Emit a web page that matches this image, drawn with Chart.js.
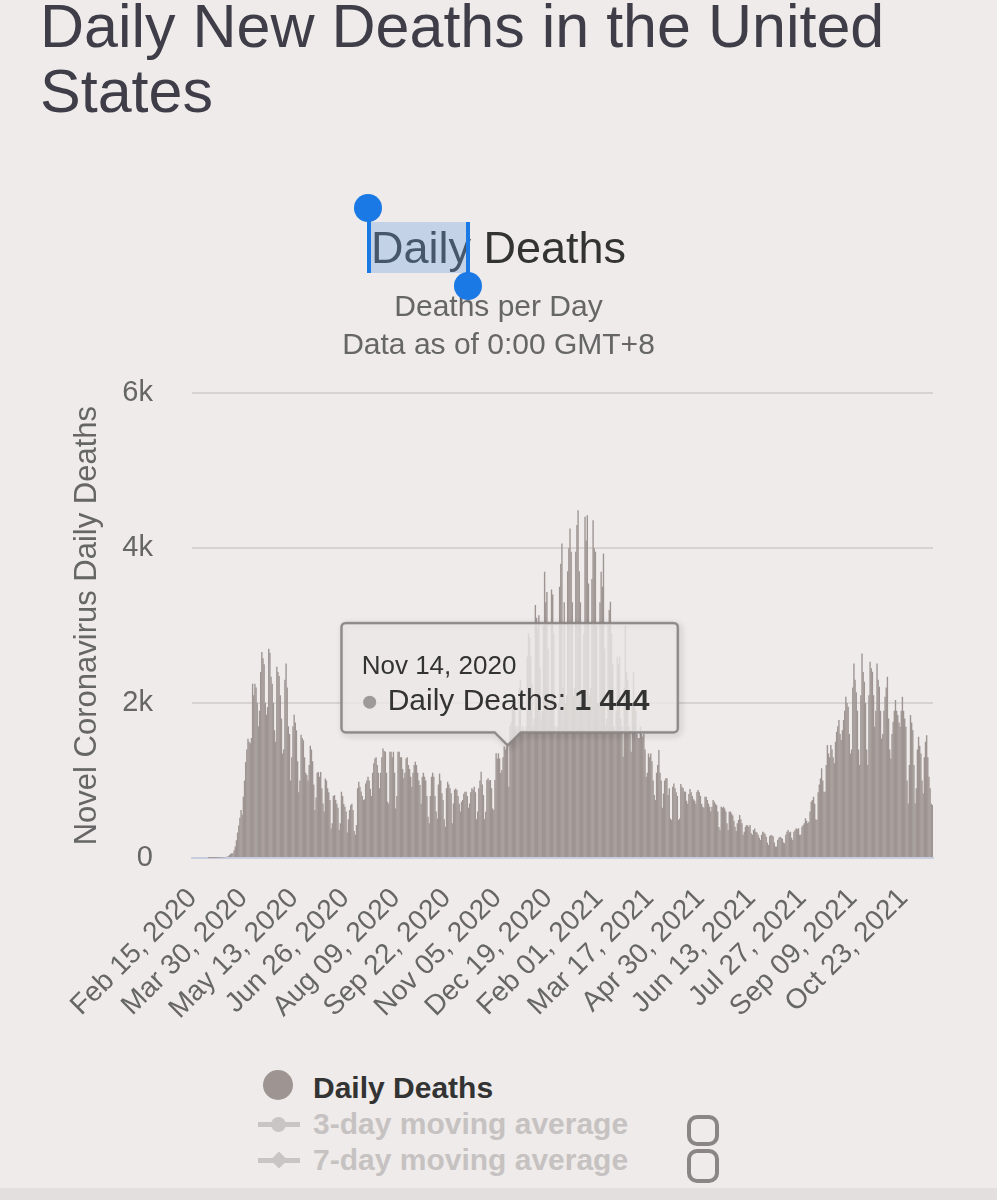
<!DOCTYPE html>
<html>
<head>
<meta charset="utf-8">
<title>Daily New Deaths in the United States</title>
<script src="https://cdn.jsdelivr.net/npm/chart.js@4.4.1/dist/chart.umd.min.js"></script>
<style>
  html, body { margin: 0; padding: 0; background: #eeebea; }
  body { width: 997px; height: 1200px; position: relative; overflow: hidden;
         font-family: "Liberation Sans", Arial, Helvetica, sans-serif; }
  h1 { position: absolute; left: 40px; top: -6px; margin: 0; width: 910px;
       font-weight: normal; font-size: 61px; line-height: 65px; color: #3e3d48; }
  #chartBox { position: absolute; left: 0; top: 190px; width: 997px; height: 860px; }
  .abs { position: absolute; }
  .legText { position: absolute; left: 313px; font-size: 30px; line-height: 36px; font-weight: bold; white-space: nowrap; }
  .sel { background: #1b79e6; position: absolute; }
  .knob { background: #1b79e6; position: absolute; width: 28px; height: 28px; border-radius: 50%; }
  .box { position: absolute; left: 687px; width: 32px; border: 4px solid #8b8584; border-radius: 10px; box-sizing: border-box; }
  #footer { position: absolute; left: 0; top: 1188px; width: 997px; height: 12px; background: #e3dfde; }
</style>
</head>
<body>
<h1>Daily New Deaths in the United States</h1>

<div id="chartBox"><canvas id="chart" width="997" height="860"></canvas></div>

<!-- text selection on the chart title -->
<div class="abs" style="left:370px;top:222px;width:97px;height:51px;background:rgba(110,160,225,0.33);"></div>
<div class="sel" style="left:367px;top:208px;width:4px;height:65px;"></div>
<div class="knob" style="left:354px;top:194px;"></div>
<div class="sel" style="left:466px;top:222px;width:4px;height:64px;"></div>
<div class="knob" style="left:454px;top:272px;"></div>

<!-- legend -->
<div class="abs" style="left:263px;top:1070px;width:30px;height:30px;border-radius:50%;background:#9e9592;"></div>
<div class="legText" style="top:1070px;color:#333333;">Daily Deaths</div>

<div class="abs" style="left:258px;top:1122px;width:42px;height:5px;background:#c9c5c4;"></div>
<div class="abs" style="left:271px;top:1117px;width:15px;height:15px;border-radius:50%;background:#c9c5c4;"></div>
<div class="legText" style="top:1106px;color:#c6c2c1;">3-day moving average</div>

<div class="abs" style="left:258px;top:1158px;width:42px;height:5px;background:#c9c5c4;"></div>
<div class="abs" style="left:273px;top:1154px;width:12px;height:12px;background:#c9c5c4;transform:rotate(45deg);"></div>
<div class="legText" style="top:1142px;color:#c6c2c1;">7-day moving average</div>

<div class="box" style="top:1115px;height:31px;"></div>
<div class="box" style="top:1149px;height:34px;"></div>

<div id="footer"></div>

<script>
// --------------------
// DATA
// --------------------
const START_DATE = Date.UTC(2020, 1, 15);   // first day on the axis
const MONTHS = ['Jan','Feb','Mar','Apr','May','Jun','Jul','Aug','Sep','Oct','Nov','Dec'];

// daily deaths, one row per week (Sat .. Fri)
const dailyDeaths = [
  0,0,0,0,0,0,0,                          // Feb 15 2020
  0,0,0,0,0,0,0,                          // Feb 22
  1,1,4,1,3,1,2,                          // Feb 29
  4,3,4,5,8,7,11,                         // Mar 07
  10,12,18,23,40,55,60,                   // Mar 14
  60,100,150,230,330,420,520,             // Mar 21
  620,560,790,1000,1240,1400,1540,        // Mar 28
  1500,1480,1550,2250,2100,2250,2200,     // Apr 04
  2000,1700,1900,2400,2660,2580,2500,     // Apr 11
  2000,1850,1950,2700,2650,2340,2250,     // Apr 18
  2000,1650,1500,2470,2400,2350,2100,     // Apr 25
  1800,1350,1400,2300,2510,2200,1700,     // May 02
  1600,1000,1300,1700,1850,1750,1650,     // May 09
  1250,850,1000,1590,1550,1520,1300,      // May 16
  1100,1070,1000,1200,1450,1400,1250,     // May 23
  950,620,780,1100,1110,1050,1110,        // May 30
  900,705,600,1027,1000,900,850,          // Jun 06
  750,380,450,800,812,750,700,            // Jun 13
  650,361,450,855,800,700,662,            // Jun 20
  600,330,500,620,680,700,620,            // Jun 27
  350,300,425,900,985,920,860,            // Jul 04
  800,748,760,963,1000,1049,1000,         // Jul 11
  893,800,1100,1222,1286,1300,1200,       // Jul 18
  1100,900,1100,1300,1415,1380,1370,      // Jul 25
  1100,727,700,1372,1372,1300,1370,       // Aug 01
  1100,640,800,1372,1372,1300,1300,       // Aug 08
  1150,1028,1100,1286,1300,1200,1150,     // Aug 15
  1050,920,1100,1200,1243,1200,1100,      // Aug 22
  1000,942,700,1049,1100,1049,1000,       // Aug 29
  800,533,450,800,1050,1100,1050,         // Sep 05
  800,600,511,950,1092,1000,835,          // Sep 12
  750,500,404,900,985,950,900,            // Sep 19
  835,450,705,880,898,877,800,            // Sep 26
  700,600,727,750,830,855,855,            // Oct 03
  800,650,705,850,900,880,920,            // Oct 10
  850,500,600,900,1000,1114,950,          // Oct 17
  812,500,597,1007,1028,1000,1007,        // Oct 24
  900,640,619,1007,1351,1286,1351,        // Oct 31
  1286,1100,1136,1300,1440,1400,1440,     // Nov 07
  1444,920,1700,1750,1950,2000,1950,      // Nov 14
  1700,1650,1700,2200,2300,1650,1700,     // Nov 21
  1650,1600,1700,2600,2900,2850,2600,     // Nov 28
  2250,1700,1800,3265,3100,2950,3135,     // Dec 05
  2450,1800,1900,3000,3694,3300,3435,     // Dec 12
  2700,1900,2000,3466,3400,2900,1700,     // Dec 19
  1600,1700,2000,3500,3800,4060,2200,     // Dec 26
  3300,2000,2100,3700,4000,4253,3952,     // Jan 02 2021
  3300,2100,2200,3952,4300,4490,3700,     // Jan 09
  3300,2000,1900,2900,4404,4100,4425,     // Jan 16
  3545,2100,2200,3600,4361,4000,3952,     // Jan 23
  3000,2000,2000,3300,3694,3500,3930,     // Jan 30
  2700,1700,1800,3000,3200,3307,2900,     // Feb 06
  2500,1700,1650,1900,2600,2500,2600,     // Feb 13
  1800,1700,1307,2200,3000,2400,2300,     // Feb 20
  1700,1650,1372,2000,2400,2000,1900,     // Feb 27
  1600,1550,1550,1700,1600,1565,1600,     // Mar 06
  1400,1050,1100,1350,1300,1350,1250,     // Mar 13
  1000,813,750,1100,1200,1393,1100,       // Mar 20
  1000,650,834,1000,1028,1028,813,        // Mar 27
  900,511,490,920,963,900,850,            // Apr 03
  800,490,511,955,920,900,860,            // Apr 10
  855,740,700,826,891,850,800,            // Apr 17
  760,740,700,855,877,850,800,            // Apr 24
  700,663,650,791,791,750,700,            // May 01
  663,600,663,748,727,700,680,            // May 08
  600,400,361,663,650,663,640,            // May 15
  600,450,361,597,600,576,550,            // May 22
  480,404,350,450,490,555,500,            // May 29
  447,300,340,404,425,420,400,            // Jun 05
  425,318,300,361,380,340,330,            // Jun 12
  300,260,232,300,340,330,310,            // Jun 19
  275,200,168,280,297,290,280,            // Jun 26
  200,150,147,232,260,275,260,            // Jul 03
  250,200,190,300,340,361,330,            // Jul 10
  340,260,232,340,360,383,370,            // Jul 17
  383,300,300,404,425,450,512,            // Jul 24
  480,450,469,600,727,750,791,            // Jul 31
  700,500,490,850,950,1028,1158,          // Aug 07
  1000,855,855,1200,1458,1350,1300,       // Aug 14
  1458,1400,1300,1222,1500,1630,1700,     // Aug 21
  1780,1600,1522,1650,1780,1900,2082,     // Aug 28
  2000,1952,1600,1350,1400,2200,2511,     // Sep 04
  2300,2140,1900,1400,1200,2100,2640,     // Sep 11
  2400,2275,2000,1400,1200,2100,2532,     // Sep 18
  2450,2404,2100,1695,1900,2511,2300,     // Sep 25
  2210,1900,1544,1600,1900,2082,2200,     // Oct 02
  2340,1800,1400,1286,1600,1759,1900,     // Oct 09
  2039,1900,1845,1750,1695,1900,2082,     // Oct 16
  1900,1800,1695,1000,705,1200,1845,      // Oct 23
  1750,1652,1200,705,900,1400,1565,       // Oct 30
  1450,1350,1000,834,1300,1500,1586,      // Nov 06
  1300,1050,900,700,684                   // Nov 13 .. Nov 17
];

const xTickLabels = ['Feb 15, 2020','Mar 30, 2020','May 13, 2020','Jun 26, 2020','Aug 09, 2020',
  'Sep 22, 2020','Nov 05, 2020','Dec 19, 2020','Feb 01, 2021','Mar 17, 2021','Apr 30, 2021',
  'Jun 13, 2021','Jul 27, 2021','Sep 09, 2021','Oct 23, 2021'];
const yTickValues = [0, 2000, 4000, 6000];
const yTickLabels = ['0', '2k', '4k', '6k'];
const tooltipDate = 'Nov 14, 2020';

// --------------------
// HELPERS
// --------------------
function pad(n){ return n < 10 ? '0' + n : '' + n; }
function fmtDate(ms){
  const d = new Date(ms);
  return MONTHS[d.getUTCMonth()] + ' ' + pad(d.getUTCDate()) + ', ' + d.getUTCFullYear();
}
function fmtNum(v){ return String(v).replace(/\B(?=(\d{3})+(?!\d))/g, ' '); }

const dateLabels = dailyDeaths.map((_, i) => fmtDate(START_DATE + i * 86400000));

const FONT = '"Liberation Sans", Arial, Helvetica, sans-serif';
Chart.defaults.font.family = FONT;

// --------------------
// PINNED TOOLTIP (drawn at the bar's own position)
// --------------------
const pinnedTooltip = {
  id: 'pinnedTooltip',
  afterDatasetsDraw(chart){
    const idx = dateLabels.indexOf(tooltipDate);
    const el = chart.getDatasetMeta(0).data[idx];
    if(!el) return;
    const ctx = chart.ctx;
    const tipX = el.x, tipY = el.y - 1;
    const w = 336, h = 109, r = 4, cw = 13, ch = 13;
    const left = tipX - 166, bottom = tipY - ch, top = bottom - h, right = left + w;

    function shape(){
      ctx.beginPath();
      ctx.moveTo(left + r, top);
      ctx.lineTo(right - r, top); ctx.arcTo(right, top, right, top + r, r);
      ctx.lineTo(right, bottom - r); ctx.arcTo(right, bottom, right - r, bottom, r);
      ctx.lineTo(tipX + cw, bottom); ctx.lineTo(tipX, tipY); ctx.lineTo(tipX - cw, bottom);
      ctx.lineTo(left + r, bottom); ctx.arcTo(left, bottom, left, bottom - r, r);
      ctx.lineTo(left, top + r); ctx.arcTo(left, top, left + r, top, r);
      ctx.closePath();
    }
    ctx.save();
    // shadow only along the outline
    shape();
    ctx.shadowColor = 'rgba(0,0,0,0.35)';
    ctx.shadowBlur = 6; ctx.shadowOffsetX = 2; ctx.shadowOffsetY = 2;
    ctx.strokeStyle = 'rgba(120,115,114,0.6)'; ctx.lineWidth = 3;
    ctx.stroke();
    ctx.shadowColor = 'transparent';
    shape();
    ctx.fillStyle = 'rgba(234,231,230,0.8)';
    ctx.fill();
    ctx.strokeStyle = '#8f8a89'; ctx.lineWidth = 2;
    ctx.stroke();

    ctx.textAlign = 'left'; ctx.textBaseline = 'alphabetic';
    ctx.fillStyle = '#333333';
    ctx.font = '26px ' + FONT;
    ctx.fillText(tooltipDate, left + 20, top + 51);

    ctx.fillStyle = '#9e9a99';
    ctx.beginPath(); ctx.arc(left + 28, top + 79, 6.5, 0, Math.PI * 2); ctx.fill();

    ctx.fillStyle = '#333333';
    ctx.font = '30px ' + FONT;
    const label = 'Daily Deaths: ';
    ctx.fillText(label, left + 46, top + 87);
    const lw = ctx.measureText(label).width;
    ctx.font = 'bold 30px ' + FONT;
    ctx.fillText(fmtNum(dailyDeaths[idx]), left + 46 + lw, top + 87);
    ctx.restore();
  }
};

// --------------------
// CHART
// --------------------
const ctx = document.getElementById('chart').getContext('2d');
const chart = new Chart(ctx, {
  type: 'bar',
  data: {
    labels: dateLabels,
    datasets: [{
      label: 'Daily Deaths',
      data: dailyDeaths,
      backgroundColor: '#9e9592',
      borderWidth: 0,
      barPercentage: 1.2,       // slight overlap hides anti-alias seams between 1px bars
      categoryPercentage: 1.0,
      yAxisID: 'y'
    }]
  },
  options: {
    responsive: false,
    animation: false,
    devicePixelRatio: 1,
    layout: { padding: 0 },
    plugins: {
      legend: { display: false },
      tooltip: { enabled: false },
      title: {
        display: true, text: 'Daily Deaths', color: '#333333',
        font: { size: 45, weight: 'normal', lineHeight: 1.2 },
        padding: { top: 34, bottom: 0 }
      },
      subtitle: {
        display: true, text: ['Deaths per Day', 'Data as of 0:00 GMT+8'], color: '#666666',
        font: { size: 30, lineHeight: 1.27 },
        padding: { top: 11, bottom: 28 }
      }
    },
    scales: {
      x: {
        type: 'category',
        grid: { display: false },
        border: { display: true, color: '#c8cde0', width: 2 },
        ticks: {
          autoSkip: false, maxRotation: 45, minRotation: 45,
          color: '#666666', font: { size: 28 }, padding: 16,
          callback: function(value){
            const l = this.getLabelForValue(value);
            return xTickLabels.includes(l) ? l : '';
          }
        },
        afterFit: s => { s.height = 192; }
      },
      y: {
        position: 'left',
        min: 0, max: 6000,
        grid: { color: '#d7d3d2', lineWidth: 2, drawTicks: false },
        border: { display: false },
        ticks: {
          stepSize: 2000, color: '#666666', font: { size: 29 }, padding: 39,
          callback: v => { const i = yTickValues.indexOf(v); return i >= 0 ? yTickLabels[i] : ''; }
        },
        title: {
          display: true, text: 'Novel Coronavirus Daily Deaths', color: '#666666',
          font: { size: 31 }, padding: { top: 69, bottom: 0 }
        },
        afterFit: s => { s.width = 192; }
      },
      // empty right-hand axis that only keeps the plot clear of the right edge
      yRight: {
        position: 'right',
        grid: { display: false },
        border: { display: false },
        ticks: { display: false },
        afterFit: s => { s.width = 64; }
      }
    }
  },
  plugins: [pinnedTooltip]
});
</script>
</body>
</html>
